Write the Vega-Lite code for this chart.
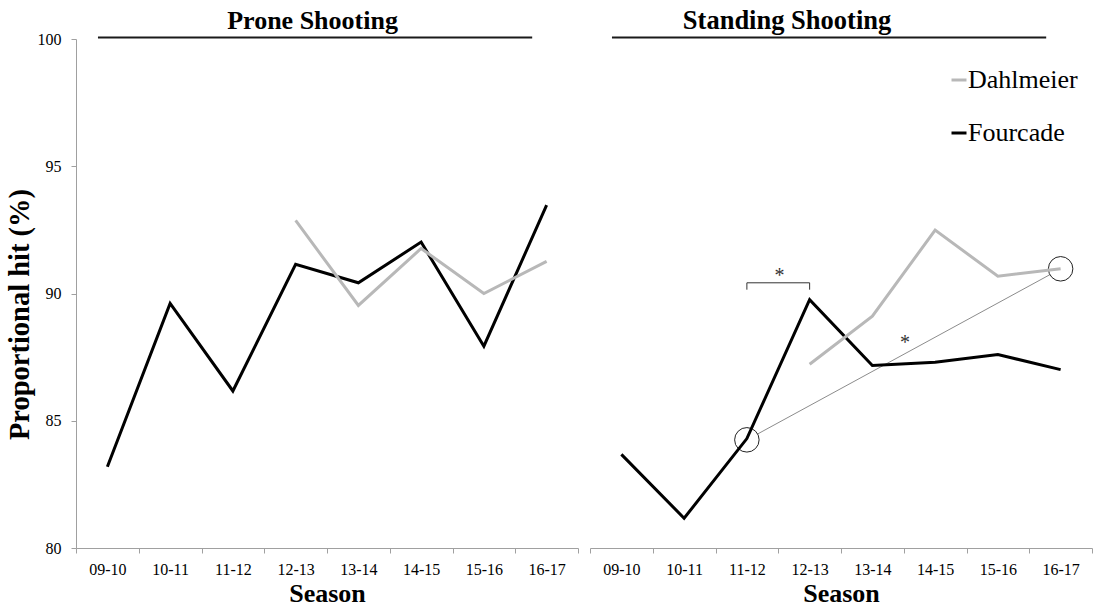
{
  "$schema": "https://vega.github.io/schema/vega-lite/v6.json",
  "padding": {"left": 5, "top": 8, "right": 0, "bottom": 0},
  "data": {
    "values": [
      {"kind": "data", "panel": "Prone", "athlete": "Fourcade", "season": "09-10", "hit": 83.19},
      {"kind": "data", "panel": "Prone", "athlete": "Fourcade", "season": "10-11", "hit": 89.61},
      {"kind": "data", "panel": "Prone", "athlete": "Fourcade", "season": "11-12", "hit": 86.17},
      {"kind": "data", "panel": "Prone", "athlete": "Fourcade", "season": "12-13", "hit": 91.15},
      {"kind": "data", "panel": "Prone", "athlete": "Fourcade", "season": "13-14", "hit": 90.42},
      {"kind": "data", "panel": "Prone", "athlete": "Fourcade", "season": "14-15", "hit": 92.02},
      {"kind": "data", "panel": "Prone", "athlete": "Fourcade", "season": "15-16", "hit": 87.93},
      {"kind": "data", "panel": "Prone", "athlete": "Fourcade", "season": "16-17", "hit": 93.47},
      {"kind": "data", "panel": "Prone", "athlete": "Dahlmeier", "season": "12-13", "hit": 92.87},
      {"kind": "data", "panel": "Prone", "athlete": "Dahlmeier", "season": "13-14", "hit": 89.53},
      {"kind": "data", "panel": "Prone", "athlete": "Dahlmeier", "season": "14-15", "hit": 91.77},
      {"kind": "data", "panel": "Prone", "athlete": "Dahlmeier", "season": "15-16", "hit": 90.0},
      {"kind": "data", "panel": "Prone", "athlete": "Dahlmeier", "season": "16-17", "hit": 91.26},
      {"kind": "data", "panel": "Standing", "athlete": "Fourcade", "season": "09-10", "hit": 83.68},
      {"kind": "data", "panel": "Standing", "athlete": "Fourcade", "season": "10-11", "hit": 81.17},
      {"kind": "data", "panel": "Standing", "athlete": "Fourcade", "season": "11-12", "hit": 84.3},
      {"kind": "data", "panel": "Standing", "athlete": "Fourcade", "season": "12-13", "hit": 89.76},
      {"kind": "data", "panel": "Standing", "athlete": "Fourcade", "season": "13-14", "hit": 87.17},
      {"kind": "data", "panel": "Standing", "athlete": "Fourcade", "season": "14-15", "hit": 87.3},
      {"kind": "data", "panel": "Standing", "athlete": "Fourcade", "season": "15-16", "hit": 87.6},
      {"kind": "data", "panel": "Standing", "athlete": "Fourcade", "season": "16-17", "hit": 87.01},
      {"kind": "data", "panel": "Standing", "athlete": "Dahlmeier", "season": "12-13", "hit": 87.22},
      {"kind": "data", "panel": "Standing", "athlete": "Dahlmeier", "season": "13-14", "hit": 89.11},
      {"kind": "data", "panel": "Standing", "athlete": "Dahlmeier", "season": "14-15", "hit": 92.49},
      {"kind": "data", "panel": "Standing", "athlete": "Dahlmeier", "season": "15-16", "hit": 90.68},
      {"kind": "data", "panel": "Standing", "athlete": "Dahlmeier", "season": "16-17", "hit": 90.97},
      {"kind": "underline", "panel": "Prone", "season": "09-10", "season2": "16-17", "hit": 100.06},
      {"kind": "underline", "panel": "Standing", "season": "09-10", "season2": "16-17", "hit": 100.06},
      {"kind": "titleL", "panel": "Prone", "season": "12-13", "hit": 100.39, "label": "Prone Shooting"},
      {"kind": "titleR", "panel": "Standing", "season": "12-13", "hit": 100.39, "label": "Standing Shooting"},
      {"kind": "trend", "panel": "Standing", "season": "11-12", "season2": "16-17", "hit": 84.25, "hit2": 90.97},
      {"kind": "circle", "panel": "Standing", "season": "11-12", "hit": 84.25},
      {"kind": "circle", "panel": "Standing", "season": "16-17", "hit": 90.97},
      {"kind": "bracket", "panel": "Standing", "season": "11-12", "season2": "12-13", "hit": 90.42, "hit2": 90.42},
      {"kind": "bracket", "panel": "Standing", "season": "11-12", "season2": "11-12", "hit": 90.42, "hit2": 90.15},
      {"kind": "bracket", "panel": "Standing", "season": "12-13", "season2": "12-13", "hit": 90.42, "hit2": 90.15},
      {"kind": "star", "panel": "Standing", "season": "12-13", "hit": 90.46, "label": "*"},
      {"kind": "star", "panel": "Standing", "season": "14-15", "hit": 87.82, "label": "*"}
    ]
  },
  "facet": {
    "column": {"field": "panel", "type": "nominal", "header": {"title": null, "labels": false}}
  },
  "spacing": {"column": 12},
  "spec": {
    "width": 502,
    "height": 509,
    "encoding": {
      "x": {
        "field": "season",
        "type": "ordinal",
        "scale": {"type": "band", "paddingInner": 0, "paddingOuter": 0},
        "axis": {
          "title": "Season",
          "tickBand": "extent",
          "labelAngle": 0,
          "labelBaseline": "alphabetic",
          "labelPadding": 21.7,
          "titleBaseline": "alphabetic",
          "titleY": 53.4
        }
      },
      "y": {
        "field": "hit",
        "type": "quantitative",
        "scale": {"domain": [80, 100], "nice": false, "zero": false},
        "axis": {
          "title": "Proportional hit (%)",
          "values": [80, 85, 90, 95, 100],
          "labelPadding": 10,
          "titleFontSize": 28.5,
          "titleX": -47.7,
          "titleY": 275,
          "titleBaseline": "alphabetic"
        }
      }
    },
    "layer": [
      {
        "transform": [{"filter": "datum.kind === 'underline'"}],
        "mark": {"type": "rule", "color": "#1a1a1a", "strokeWidth": 2},
        "encoding": {
          "x": {"field": "season", "type": "ordinal", "bandPosition": 0.35, "scale": {"type": "band", "paddingInner": 0, "paddingOuter": 0}},
          "x2": {"field": "season2", "bandPosition": 0.27}
        }
      },
      {
        "transform": [{"filter": "datum.kind === 'titleL'"}],
        "mark": {"type": "text", "fontSize": 26, "fontWeight": "bold", "align": "center", "baseline": "alphabetic", "color": "#000"},
        "encoding": {
          "x": {"field": "season", "type": "ordinal", "bandPosition": 0.77, "scale": {"type": "band", "paddingInner": 0, "paddingOuter": 0}},
          "text": {"field": "label"}
        }
      },
      {
        "transform": [{"filter": "datum.kind === 'titleR'"}],
        "mark": {"type": "text", "fontSize": 26.5, "fontWeight": "bold", "align": "center", "baseline": "alphabetic", "color": "#000"},
        "encoding": {
          "x": {"field": "season", "type": "ordinal", "bandPosition": 0.14, "scale": {"type": "band", "paddingInner": 0, "paddingOuter": 0}},
          "text": {"field": "label"}
        }
      },
      {
        "transform": [{"filter": "datum.kind === 'trend'"}],
        "mark": {"type": "rule", "color": "#8c8c8c", "strokeWidth": 1},
        "encoding": {
          "x2": {"field": "season2"},
          "y2": {"field": "hit2"}
        }
      },
      {
        "transform": [{"filter": "datum.kind === 'circle'"}],
        "mark": {"type": "point", "shape": "circle", "filled": false, "fill": "#ffffff", "fillOpacity": 1, "stroke": "#222222", "strokeWidth": 1, "size": 600, "opacity": 1},
        "encoding": {}
      },
      {
        "transform": [{"filter": "datum.kind === 'bracket'"}],
        "mark": {"type": "rule", "color": "#333333", "strokeWidth": 1},
        "encoding": {
          "x2": {"field": "season2"},
          "y2": {"field": "hit2"}
        }
      },
      {
        "transform": [{"filter": "datum.kind === 'star'"}],
        "mark": {"type": "text", "fontSize": 20, "align": "center", "baseline": "alphabetic", "color": "#333333"},
        "encoding": {
          "x": {"field": "season", "type": "ordinal", "bandPosition": 0.02, "scale": {"type": "band", "paddingInner": 0, "paddingOuter": 0}},
          "text": {"field": "label"}
        }
      },
      {
        "transform": [{"filter": "datum.kind === 'data'"}],
        "mark": {"type": "line", "strokeWidth": 3},
        "encoding": {
          "color": {
            "field": "athlete",
            "type": "nominal",
            "scale": {"domain": ["Dahlmeier", "Fourcade"], "range": ["#b8b8b8", "#000000"]},
            "legend": {
              "orient": "none",
              "legendX": 870,
              "legendY": 28,
              "title": null,
              "symbolType": "stroke",
              "symbolSize": 225,
              "symbolStrokeWidth": 3,
              "labelFontSize": 26,
              "labelOffset": -4,
              "rowPadding": 27
            }
          }
        }
      }
    ]
  },
  "config": {
    "font": "Liberation Serif",
    "view": {"stroke": null},
    "axis": {
      "grid": false,
      "domainColor": "#a0a0a0",
      "tickColor": "#a0a0a0",
      "tickSize": 5,
      "labelColor": "#000000",
      "labelFont": "Liberation Serif",
      "labelFontSize": 16,
      "titleColor": "#000000",
      "titleFont": "Liberation Serif",
      "titleFontSize": 26,
      "titleFontWeight": "bold"
    },
    "legend": {
      "labelFont": "Liberation Serif",
      "labelColor": "#000000"
    }
  }
}
